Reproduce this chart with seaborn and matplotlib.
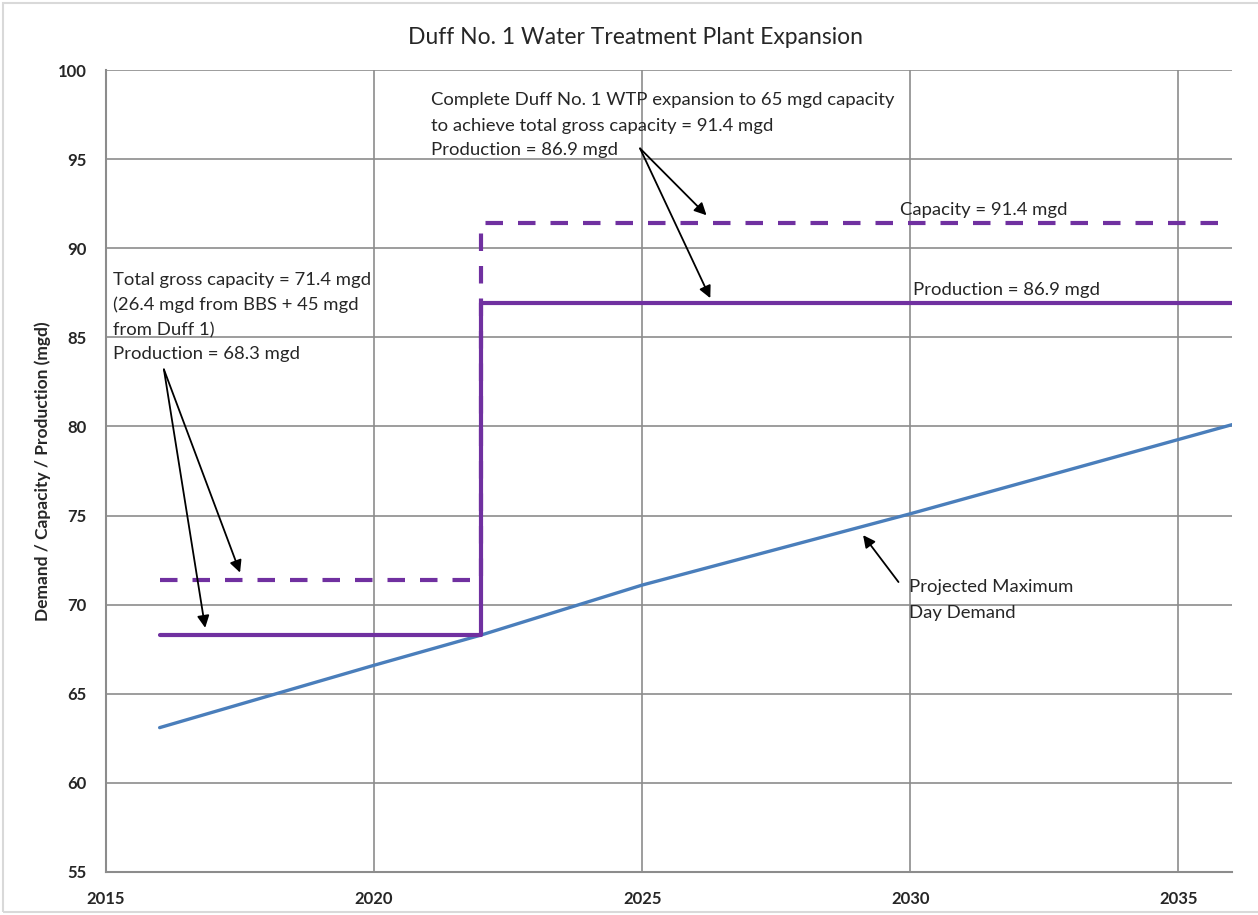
import matplotlib
matplotlib.use("Agg")
import matplotlib.pyplot as plt
import seaborn as sns
import pandas as pd
from matplotlib.patches import Rectangle

# ---- data ----
demand_years = [2016, 2020, 2022, 2025, 2030, 2036]
demand_values = [63.1, 66.6, 68.3, 71.1, 75.1, 80.1]

step_years = [2016, 2022, 2036]
capacity_values = [71.4, 91.4, 91.4]
production_values = [68.3, 86.9, 86.9]

x_ticks = [2015, 2020, 2025, 2030, 2035]
y_ticks = [55, 60, 65, 70, 75, 80, 85, 90, 95, 100]

title = "Duff No. 1 Water Treatment Plant Expansion"
ylabel = "Demand / Capacity / Production (mgd)"

sns.set_theme(style="white")
plt.rcParams['font.family'] = ['Lato', 'DejaVu Sans']

fig = plt.figure(figsize=(12.58, 9.15), dpi=100)
ax = fig.add_axes([106/1258, 1-872/915, (1232-106)/1258, (872-70)/915])

purple = "#7030A0"
blue = "#4A7EBB"

df_d = pd.DataFrame({"year": demand_years, "value": demand_values})
df_c = pd.DataFrame({"year": step_years, "value": capacity_values})
df_p = pd.DataFrame({"year": step_years, "value": production_values})

sns.lineplot(data=df_d, x="year", y="value", ax=ax, color=blue, lw=2.4,
             estimator=None, sort=False, zorder=3)
sns.lineplot(data=df_c, x="year", y="value", ax=ax, color=purple, lw=3.0,
             estimator=None, sort=False, drawstyle="steps-post",
             linestyle=(0, (4.2, 3.6)), zorder=3)
sns.lineplot(data=df_p, x="year", y="value", ax=ax, color=purple, lw=3.0,
             estimator=None, sort=False, drawstyle="steps-post", zorder=4)

ax.set_xlim(2015, 2036)
ax.set_ylim(55, 100)
ax.set_xticks(x_ticks)
ax.set_yticks(y_ticks)
ax.grid(True, color="#8c8c8c", lw=1.2)
ax.set_axisbelow(True)
for s in ["top", "right"]:
    ax.spines[s].set_visible(False)
for s in ["left", "bottom"]:
    ax.spines[s].set_color("#8c8c8c")
    ax.spines[s].set_linewidth(1.5)
ax.tick_params(axis="both", length=0, labelsize=12)
ax.tick_params(axis="x", pad=14)
ax.tick_params(axis="y", pad=14)
for lab in ax.get_xticklabels() + ax.get_yticklabels():
    lab.set_fontweight("bold")
ax.set_xlabel("")
ax.set_ylabel(ylabel, fontsize=12.5, fontweight="bold", labelpad=5)

fig.text(635/1258, 1-37/915, title, ha="center", va="center", fontsize=16.5)

# annotations
fs = 13.3
left_lines = ["Total gross capacity = 71.4 mgd", "(26.4 mgd from BBS + 45 mgd",
              "from Duff 1)", "Production = 68.3 mgd"]
left_y = [88.22, 86.81, 85.41, 84.06]
for t, y in zip(left_lines, left_y):
    ax.text(2015.13, y, t, fontsize=fs, va="center", ha="left")

top_lines = ["Complete Duff No. 1 WTP expansion to 65 mgd capacity",
             "to achieve total gross capacity = 91.4 mgd", "Production = 86.9 mgd"]
top_y = [98.32, 96.86, 95.51]
for t, y in zip(top_lines, top_y):
    ax.text(2021.06, y, t, fontsize=fs, va="center", ha="left")

ax.text(2029.8, 92.14, "Capacity = 91.4 mgd", fontsize=fs, va="center", ha="left")
ax.text(2030.05, 87.65, "Production = 86.9 mgd", fontsize=fs, va="center", ha="left")
ax.text(2029.98, 70.99, "Projected Maximum", fontsize=fs, va="center", ha="left")
ax.text(2029.98, 69.53, "Day Demand", fontsize=fs, va="center", ha="left")

arrow = dict(arrowstyle="-|>", color="black", lw=1.3, mutation_scale=18, shrinkA=0, shrinkB=0)
ax.annotate("", xy=(2016.85, 68.7), xytext=(2016.08, 83.2), arrowprops=arrow)
ax.annotate("", xy=(2017.5, 71.8), xytext=(2016.08, 83.2), arrowprops=arrow)
ax.annotate("", xy=(2026.2, 91.85), xytext=(2024.96, 95.6), arrowprops=arrow)
ax.annotate("", xy=(2026.27, 87.2), xytext=(2024.96, 95.6), arrowprops=arrow)
ax.annotate("", xy=(2029.12, 73.9), xytext=(2029.78, 71.27), arrowprops=arrow)

fig.patches.append(Rectangle((3/1258, 3/915), 1.1, 1-6/915, transform=fig.transFigure,
                             fill=False, edgecolor="#d9d9d9", lw=1.5))

fig.savefig("out.png", dpi=100)
